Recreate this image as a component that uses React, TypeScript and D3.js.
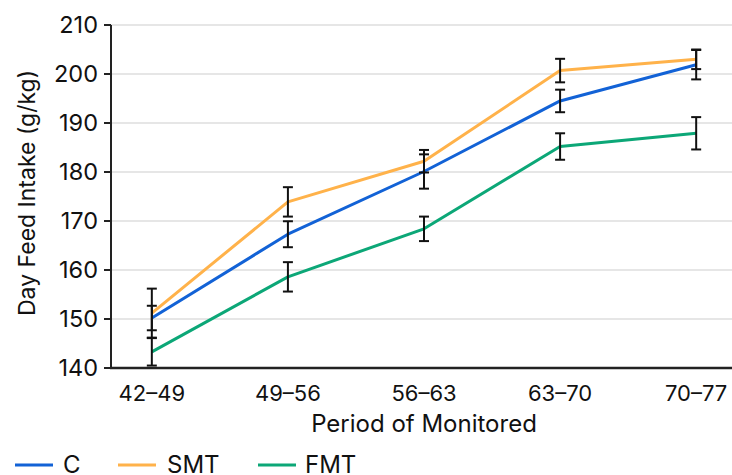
import React from "react";
import * as d3 from "d3";

const periods = ["42–49", "49–56", "56–63", "63–70", "70–77"];
const seriesNames = ["C", "SMT", "FMT"];
const cValues = [150.2, 167.3, 180.1, 194.5, 201.9];
const cErrors = [2.5, 2.65, 3.5, 2.3, 3.0];
const smtValues = [151.2, 173.9, 182.2, 200.7, 203.0];
const smtErrors = [5.0, 3.0, 2.3, 2.4, 2.0];
const fmtValues = [143.3, 158.6, 168.4, 185.2, 187.9];
const fmtErrors = [2.8, 3.0, 2.5, 2.7, 3.3];
const yTicks = [140, 150, 160, 170, 180, 190, 200, 210];
const colors = ["#1262d6", "#ffb24a", "#0ca777"];

const W = 732;
const H = 475;
const FONT = "Inter, 'Noto Sans', sans-serif";

export default function App() {
  const x = d3.scalePoint<string>().domain(periods).range([111, 737]).padding(0.3);
  const y = d3.scaleLinear().domain([140, 210]).range([368, 25]);
  const data = [
    { name: seriesNames[0], values: cValues, errors: cErrors, color: colors[0] },
    { name: seriesNames[1], values: smtValues, errors: smtErrors, color: colors[1] },
    { name: seriesNames[2], values: fmtValues, errors: fmtErrors, color: colors[2] },
  ];
  const line = d3
    .line<number>()
    .x((_, i) => x(periods[i]) as number)
    .y((d) => y(d));
  const legendX = [15, 118, 258];
  const legendTextX = [63, 167, 305];

  return (
    <svg
      width={W}
      height={H}
      style={{ position: "absolute", left: 0, top: 0, fontFamily: FONT }}
    >
      <rect width={W} height={H} fill="#fff" />
      {yTicks.map((t) => (
        <g key={t}>
          {t !== 140 && (
            <line x1={111} x2={W} y1={y(t)} y2={y(t)} stroke="#e6e6e6" strokeWidth={2} />
          )}
          <line x1={104} x2={111} y1={y(t)} y2={y(t)} stroke="#222" strokeWidth={2} />
          <text x={98} y={y(t)} dy="0.36em" textAnchor="end" fontSize={23.5} fill="#111">
            {t}
          </text>
        </g>
      ))}
      <line x1={111} x2={111} y1={y(210)} y2={369} stroke="#222" strokeWidth={2} />
      <line x1={110} x2={W} y1={368} y2={368} stroke="#222" strokeWidth={2.5} />
      {periods.map((p) => (
        <text key={p} x={x(p)} y={401} textAnchor="middle" fontSize={22} fill="#111">
          {p}
        </text>
      ))}
      <text x={424} y={432} textAnchor="middle" fontSize={24} fill="#111">
        Period of Monitored
      </text>
      <text
        transform={`translate(35,193) rotate(-90)`}
        textAnchor="middle"
        fontSize={23}
        fill="#111"
      >
        Day Feed Intake (g/kg)
      </text>
      {data.map((s) => (
        <path
          key={s.name}
          d={line(s.values) || ""}
          fill="none"
          stroke={s.color}
          strokeWidth={3}
          strokeLinejoin="round"
        />
      ))}
      {data.map((s) =>
        s.values.map((v, i) => {
          const cx = x(periods[i]) as number;
          const y1 = y(v + s.errors[i]);
          const y2 = y(v - s.errors[i]);
          return (
            <g key={s.name + i} stroke="#111" strokeWidth={2}>
              <line x1={cx} x2={cx} y1={y1} y2={y2} />
              <line x1={cx - 5} x2={cx + 5} y1={y1} y2={y1} />
              <line x1={cx - 5} x2={cx + 5} y1={y2} y2={y2} />
            </g>
          );
        })
      )}
      {data.map((s, i) => (
        <g key={s.name}>
          <line
            x1={legendX[i]}
            x2={legendX[i] + 38}
            y1={465}
            y2={465}
            stroke={s.color}
            strokeWidth={3}
          />
          <text x={legendTextX[i]} y={473} fontSize={24} fill="#111">
            {s.name}
          </text>
        </g>
      ))}
    </svg>
  );
}
